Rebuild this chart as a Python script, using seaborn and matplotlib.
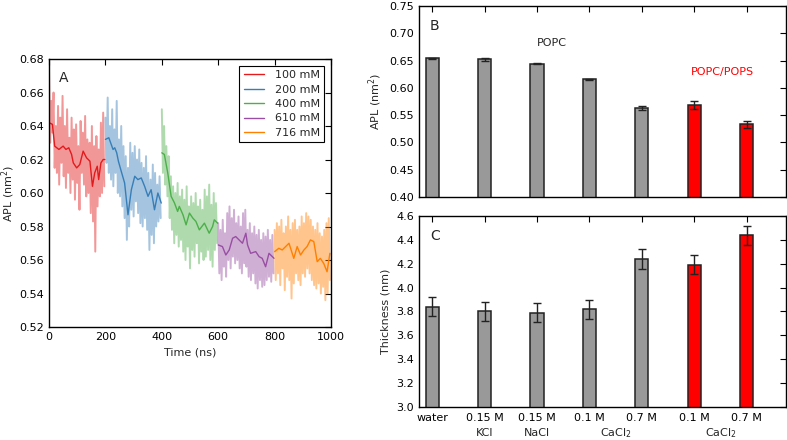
import matplotlib
matplotlib.use("Agg")
import matplotlib.pyplot as plt
import matplotlib.transforms as mtransforms
import numpy as np
import pandas as pd
import seaborn as sns

# ---- panel A: APL time series (raw every 4 ns, smoothed trace) ----
CONC = ["100 mM", "200 mM", "400 mM", "610 mM", "716 mM"]
COLORS = ["#e41a1c", "#377eb8", "#4daf4a", "#984ea3", "#ff7f00"]
SEG_START = [0, 200, 400, 600, 800]

raw_100 = [0.672, 0.630, 0.655, 0.636, 0.660, 0.615, 0.640, 0.612, 0.652, 0.605,
           0.645, 0.618, 0.658, 0.610, 0.640, 0.603, 0.650, 0.612, 0.633, 0.600,
           0.645, 0.608, 0.638, 0.596, 0.641, 0.606, 0.628, 0.590, 0.643, 0.612,
           0.636, 0.605, 0.646, 0.598, 0.632, 0.600, 0.630, 0.588, 0.640, 0.583,
           0.628, 0.565, 0.634, 0.592, 0.626, 0.598, 0.642, 0.600, 0.648, 0.604]
raw_200 = [0.645, 0.618, 0.657, 0.612, 0.640, 0.608, 0.650, 0.604, 0.638, 0.612,
           0.655, 0.600, 0.632, 0.598, 0.640, 0.592, 0.628, 0.585, 0.622, 0.572,
           0.615, 0.580, 0.630, 0.590, 0.624, 0.586, 0.628, 0.595, 0.620, 0.588,
           0.626, 0.582, 0.618, 0.580, 0.615, 0.585, 0.622, 0.578, 0.612, 0.566,
           0.608, 0.575, 0.617, 0.570, 0.612, 0.580, 0.605, 0.583, 0.610, 0.585]
raw_400 = [0.650, 0.612, 0.640, 0.605, 0.628, 0.598, 0.622, 0.585, 0.610, 0.578,
           0.604, 0.570, 0.600, 0.575, 0.606, 0.568, 0.598, 0.572, 0.602, 0.565,
           0.596, 0.560, 0.604, 0.568, 0.592, 0.555, 0.598, 0.566, 0.594, 0.562,
           0.600, 0.570, 0.592, 0.558, 0.596, 0.565, 0.590, 0.560, 0.602, 0.562,
           0.598, 0.566, 0.605, 0.560, 0.593, 0.556, 0.600, 0.566, 0.594, 0.570]
raw_610 = [0.582, 0.552, 0.578, 0.548, 0.584, 0.556, 0.576, 0.550, 0.588, 0.560,
           0.592, 0.555, 0.585, 0.562, 0.590, 0.558, 0.582, 0.560, 0.586, 0.555,
           0.580, 0.552, 0.588, 0.558, 0.590, 0.556, 0.578, 0.550, 0.582, 0.548,
           0.576, 0.552, 0.580, 0.546, 0.575, 0.543, 0.578, 0.548, 0.572, 0.544,
           0.576, 0.545, 0.574, 0.548, 0.578, 0.550, 0.572, 0.547, 0.575, 0.552]
raw_716 = [0.578, 0.548, 0.582, 0.552, 0.580, 0.545, 0.584, 0.555, 0.576, 0.542,
           0.580, 0.550, 0.586, 0.548, 0.578, 0.537, 0.582, 0.546, 0.584, 0.552,
           0.578, 0.548, 0.580, 0.545, 0.586, 0.552, 0.582, 0.550, 0.588, 0.555,
           0.586, 0.552, 0.584, 0.548, 0.580, 0.545, 0.578, 0.543, 0.582, 0.546,
           0.576, 0.540, 0.574, 0.544, 0.578, 0.536, 0.582, 0.540, 0.585, 0.548]
RAW = [raw_100, raw_200, raw_400, raw_610, raw_716]

smooth_t_100 = [0, 12, 20, 35, 50, 60, 70, 80, 86, 98, 109, 121, 133, 145, 154,
                162, 171, 176, 184, 192, 198]
smooth_v_100 = [0.642, 0.641, 0.628, 0.626, 0.628, 0.626, 0.627, 0.623, 0.618,
                0.615, 0.617, 0.625, 0.621, 0.619, 0.604, 0.612, 0.616, 0.608,
                0.618, 0.620, 0.620]
smooth_t_200 = [200, 212, 227, 233, 240, 246, 256, 268, 280, 292, 304, 315, 327,
                339, 351, 362, 374, 386, 398]
smooth_v_200 = [0.632, 0.633, 0.626, 0.627, 0.624, 0.619, 0.613, 0.606, 0.587,
                0.602, 0.610, 0.608, 0.609, 0.604, 0.598, 0.602, 0.590, 0.600,
                0.594]
smooth_t_400 = [400, 409, 421, 433, 445, 456, 462, 475, 486, 498, 510, 521, 533,
                551, 568, 580, 586, 598]
smooth_v_400 = [0.624, 0.623, 0.612, 0.598, 0.594, 0.589, 0.592, 0.587, 0.581,
                0.588, 0.585, 0.583, 0.578, 0.582, 0.576, 0.580, 0.584, 0.582]
smooth_t_610 = [600, 615, 627, 639, 651, 662, 674, 686, 698, 704, 715, 733, 745,
                756, 768, 780, 798]
smooth_v_610 = [0.569, 0.568, 0.563, 0.566, 0.573, 0.574, 0.572, 0.570, 0.576,
                0.569, 0.564, 0.565, 0.562, 0.561, 0.556, 0.564, 0.561]
smooth_t_716 = [800, 815, 827, 839, 851, 868, 880, 892, 904, 915, 927, 939, 951,
                962, 974, 986, 996]
smooth_v_716 = [0.565, 0.567, 0.566, 0.568, 0.570, 0.561, 0.568, 0.563, 0.566,
                0.568, 0.572, 0.571, 0.559, 0.561, 0.558, 0.553, 0.564]
SMOOTH_T = [smooth_t_100, smooth_t_200, smooth_t_400, smooth_t_610, smooth_t_716]
SMOOTH_V = [smooth_v_100, smooth_v_200, smooth_v_400, smooth_v_610, smooth_v_716]
RAW_STEP = 4

# ---- panels B and C: bars ----
CONDITIONS = ["water", "0.15 M KCl", "0.15 M NaCl", "0.1 M CaCl2",
              "0.7 M CaCl2", "PS 0.1 M CaCl2", "PS 0.7 M CaCl2"]
TICK_TOP = ["water", "0.15 M", "0.15 M", "0.1 M", "0.7 M", "0.1 M", "0.7 M"]
SALT_LABELS = [(1, "KCl"), (2, "NaCl"), (3.5, r"CaCl$_2$"), (5.5, r"CaCl$_2$")]
BAR_COLORS = ["#999999"] * 5 + ["#ff0000"] * 2
APL = [0.654, 0.652, 0.644, 0.616, 0.563, 0.568, 0.533]
APL_ERR = [0.001, 0.003, 0.001, 0.001, 0.003, 0.007, 0.007]
THICK = [3.84, 3.80, 3.79, 3.82, 4.24, 4.19, 4.44]
THICK_ERR = [0.08, 0.08, 0.08, 0.08, 0.08, 0.08, 0.08]

sns.set_style("white")
plt.rcParams.update({
    "font.family": "DejaVu Sans", "font.size": 8,
    "xtick.direction": "in", "ytick.direction": "in",
    "xtick.top": True, "ytick.right": True,
    "xtick.major.size": 4, "ytick.major.size": 4,
    "xtick.major.width": 0.8, "ytick.major.width": 0.8,
    "axes.edgecolor": "black", "axes.linewidth": 1.0,
    "xtick.color": "black", "ytick.color": "black",
    "xtick.labelsize": 8, "ytick.labelsize": 8,
})

fig = plt.figure(figsize=(7.87, 4.40), dpi=100)
axA = fig.add_axes([0.0623, 0.2568, 0.3583, 0.6091])
axB = fig.add_axes([0.5324, 0.5523, 0.4663, 0.4341])
axC = fig.add_axes([0.5324, 0.0750, 0.4663, 0.4341])

# panel A
for i, (label, color) in enumerate(zip(CONC, COLORS)):
    raw = pd.DataFrame({"t": SEG_START[i] + RAW_STEP * np.arange(len(RAW[i])),
                        "apl": RAW[i]})
    sns.lineplot(data=raw, x="t", y="apl", ax=axA, color=color, alpha=0.45,
                 linewidth=1.4, estimator=None, sort=False)
    sm = pd.DataFrame({"t": SMOOTH_T[i], "apl": SMOOTH_V[i]})
    sns.lineplot(data=sm, x="t", y="apl", ax=axA, color=color, linewidth=1.0,
                 estimator=None, sort=False, label=label)

axA.set_xlim(0, 1000)
axA.set_ylim(0.52, 0.68)
axA.set_xticks(np.arange(0, 1001, 200))
axA.set_yticks(np.arange(0.52, 0.681, 0.02))
axA.set_yticklabels([f"{v:.2f}" for v in np.arange(0.52, 0.681, 0.02)])
axA.set_xlabel("Time (ns)", fontsize=8)
axA.set_ylabel(r"APL (nm$^2$)", fontsize=8, labelpad=2)
axA.text(0.035, 0.955, "A", transform=axA.transAxes, fontsize=10, va="top")
leg = axA.legend(loc="upper right", fontsize=8, fancybox=False, framealpha=1,
                 edgecolor="black", handlelength=1.8, labelspacing=0.4,
                 borderpad=0.4, handletextpad=1.0, borderaxespad=0.6)
leg.get_frame().set_linewidth(0.8)

# panels B and C
bars = pd.DataFrame({"cond": CONDITIONS, "apl": APL, "thick": THICK})
for ax, col, err in [(axB, "apl", APL_ERR), (axC, "thick", THICK_ERR)]:
    sns.barplot(data=bars, x="cond", y=col, hue="cond", palette=BAR_COLORS,
                saturation=1, width=0.25, edgecolor="#222222", linewidth=1.1,
                legend=False, errorbar=None, ax=ax)
    ax.errorbar(np.arange(len(CONDITIONS)), bars[col], yerr=err, fmt="none",
                ecolor="#222222", elinewidth=1.0, capsize=3, capthick=1.0)
    ax.set_xlim(-0.25, 6.75)
    ax.set_xlabel("")

axB.set_ylim(0.40, 0.75)
axB.set_yticks(np.arange(0.40, 0.751, 0.05))
axB.set_yticklabels([f"{v:.2f}" for v in np.arange(0.40, 0.751, 0.05)])
axB.set_xticks(range(7))
axB.set_xticklabels([])
axB.set_ylabel(r"APL (nm$^2$)", fontsize=8)
axB.text(0.03, 0.93, "B", transform=axB.transAxes, fontsize=10, va="top")
axB.text(2.29, 0.682, "POPC", fontsize=8, ha="center", va="center")
axB.text(5.53, 0.629, "POPC/POPS", fontsize=8, color="#ff0000",
         ha="center", va="center")

axC.set_ylim(3.0, 4.6)
axC.set_yticks(np.arange(3.0, 4.61, 0.2))
axC.set_yticklabels([f"{v:.1f}" for v in np.arange(3.0, 4.61, 0.2)])
axC.set_xticks(range(7))
axC.set_xticklabels(TICK_TOP)
axC.tick_params(axis="x", pad=4)
axC.set_ylabel("Thickness (nm)", fontsize=8)
axC.text(0.03, 0.93, "C", transform=axC.transAxes, fontsize=10, va="top")
trans = mtransforms.blended_transform_factory(axC.transData, axC.transAxes)
for xpos, txt in SALT_LABELS:
    axC.text(xpos, -0.135, txt, transform=trans, ha="center", va="center",
             fontsize=8)

fig.savefig("out.png", dpi=100)
